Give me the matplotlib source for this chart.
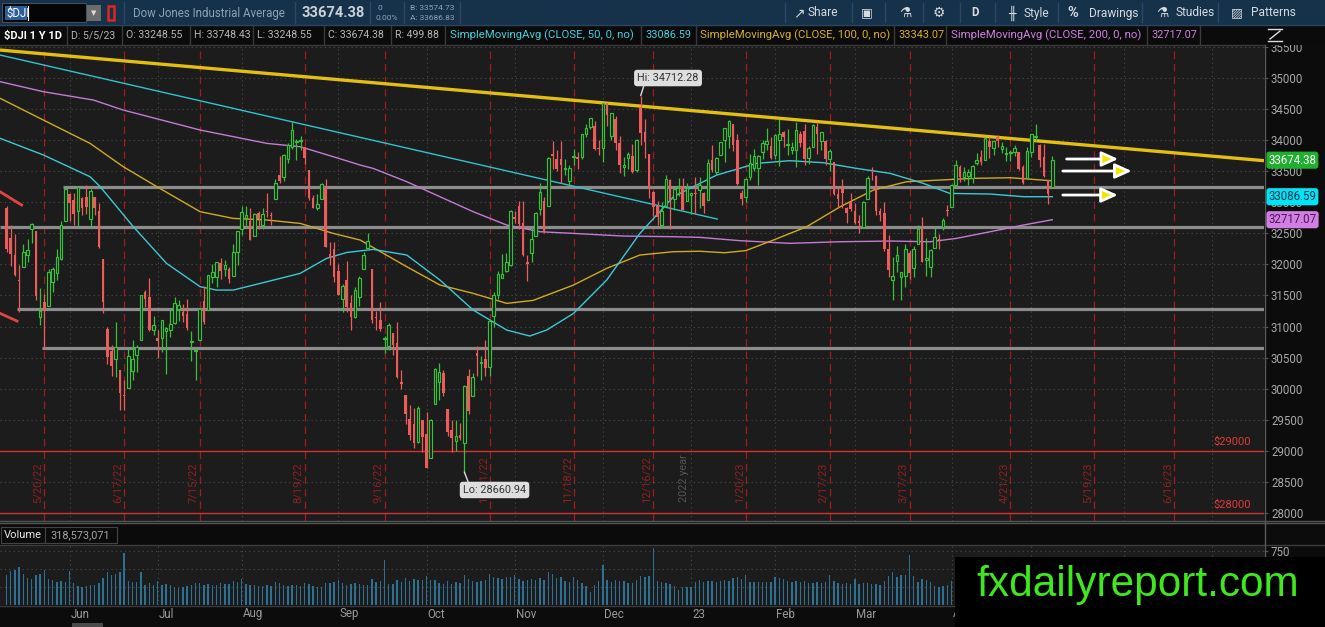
import numpy as np
import matplotlib
matplotlib.use('Agg')
import matplotlib.pyplot as plt
from matplotlib.patches import Rectangle
from matplotlib.lines import Line2D
from matplotlib.transforms import blended_transform_factory

plt.rcParams['font.family'] = ['Roboto', 'DejaVu Sans']

# ---- daily candles, $DJI 5/9/22 .. 5/5/23 (x = trading day number) ----
opens = [
    32900, 32420, 32150, 31750, 31960, 32150, 32560, 32540, 31150, 31400, 31330, 31720, 31860, 32090, 32690, 33130,
    33030, 32860, 33060, 33090, 32730, 33080, 32850, 32080, 30960, 30600, 30480, 30300, 29900, 30010, 30290, 30540, 30790, 31560, 31470, 30940, 30820,
    30810, 30930, 30940, 31060, 31280, 31230, 31200, 30750, 30610, 30780, 31410, 31260, 31790, 31800, 32020, 31930, 31920, 31820, 32200, 32560,
    32750, 32700, 32460, 32820, 32640, 32850, 32790, 33050, 33430, 33400, 33700, 33880, 33970, 33980, 33880, 33510, 33070, 32900, 33050, 33240, 32160, 32250, 31900,
    31450, 31740, 31370, 31160, 31470, 31920, 32270, 31920, 31150, 31110, 30800, 30690, 30900, 30730, 30100, 29900, 29520, 29440, 29150, 29490, 29270,
    28880, 29760, 30100, 30250, 29680, 29340, 29160, 29260, 29130, 30200, 29890, 30570, 30410, 30480, 30350, 31170, 31500, 31780, 31890, 31990, 32760,
    32940, 32660, 32030, 32180, 32450, 32890, 33020, 32930, 33770, 33690, 33700, 33530, 33340, 33720, 33720, 33730, 34100, 34200, 34230, 33870, 33870,
    34590, 34070, 34340, 33950, 33560, 33710, 33740, 33510, 34520, 34120, 33780, 33160, 32940, 32640, 32930, 33360, 33050, 33230, 33260, 33020, 33120,
    33150, 33200, 33150, 33040, 33680, 33490, 33760, 34000, 34060, 34250, 34000, 33140, 33080, 33410, 33550, 33550, 33810, 33940, 33900, 33750,
    34000, 34130, 33920, 33840, 33830, 34090, 34150, 33710, 33890, 34200, 33980, 33990, 33690, 33650, 33130, 33230, 32900, 33000, 32860,
    32690, 32600, 33050, 33440, 33420, 32860, 32820, 32250, 31750, 32060, 31790, 31820, 32180, 31940, 32330, 32560, 32070, 31950, 32270, 32400, 32600, 32870, 32920,
    33270, 33570, 33410, 33420, 33390, 33630, 33720, 33680, 33990, 33870, 34050, 33860, 33780, 33790, 33810, 33810, 33570, 33390, 33800,
    34050, 33920, 33720, 33360, 33248.55,
]
highs = [
    32940, 32630, 32480, 31990, 32320, 32400, 32660, 32540, 31620, 31520, 31920, 31960, 32240, 32700, 33220, 33140,
    33150, 33250, 33090, 33270, 33210, 33090, 32990, 32080, 31000, 30700, 31080, 30300, 30140, 30650, 30780, 30700, 31500, 31580, 31780, 31170, 30940,
    31100, 30990, 31280, 31480, 31430, 31360, 31450, 30920, 30630, 31300, 31650, 31830, 32010, 32040, 32100, 32070, 31960, 32320, 32540, 32940,
    32930, 32900, 32820, 32860, 32900, 33150, 32840, 33370, 33740, 33770, 33950, 34280, 34020, 34070, 33880, 33510, 33110, 33130, 33300, 33370, 32360, 32360, 32000,
    31680, 32050, 31510, 31640, 31820, 32190, 32510, 31930, 31250, 31400, 30840, 31060, 30900, 31080, 30300, 29900, 29730, 29690, 29720, 29490, 29620,
    29520, 30330, 30410, 30300, 29680, 29500, 29500, 29450, 30060, 30320, 30250, 30690, 30520, 30780, 31100, 31560, 31900, 32170, 32180, 32880, 32850,
    33020, 33020, 32150, 32580, 32840, 33310, 33080, 33720, 33980, 33840, 33990, 33690, 33600, 33860, 33800, 34100, 34260, 34360, 34300, 34000, 34590,
    34600, 34440, 34380, 34060, 33720, 33800, 33940, 34010, 34712.28, 34330, 33780, 33180, 33010, 33000, 33430, 33370, 33230, 33390, 33380, 33300, 33150,
    33410, 33400, 33160, 33700, 33920, 33730, 33970, 34190, 34320, 34250, 34100, 33190, 33380, 33770, 33850, 33760, 34000, 34190, 34050, 34090,
    34330, 34150, 34180, 33970, 34280, 34150, 34250, 33900, 34260, 34280, 34130, 34000, 33860, 33650, 33260, 33370, 32920, 33150, 32990,
    32800, 33010, 33420, 33570, 33440, 32900, 33000, 32470, 32120, 32300, 31880, 32320, 32230, 32300, 32640, 32760, 32430, 32240, 32600, 32480, 32750, 32950, 33290,
    33670, 33600, 33570, 33540, 33590, 33790, 33830, 34040, 34050, 34000, 34080, 33970, 33880, 33830, 33920, 33810, 33590, 33880, 34100,
    34260, 33930, 33940, 33360, 33748.43,
]
lows = [
    32200, 31980, 31820, 31230, 31960, 32040, 32340, 31430, 31030, 30640, 31330, 31560, 31740, 32070, 32690, 32690,
    32630, 32620, 32800, 32810, 32600, 32790, 32270, 31220, 30390, 30210, 30190, 29650, 29650, 30010, 30140, 30270, 30790, 31320, 30930, 30870, 30500,
    30590, 30230, 30830, 31040, 31090, 31070, 30950, 30450, 30140, 30780, 31040, 31260, 31700, 31640, 31770, 31810, 31700, 31820, 31990, 32470,
    32580, 32390, 32460, 32570, 32560, 32760, 32630, 33050, 33310, 33340, 33630, 33860, 33680, 33840, 33610, 33030, 32900, 32880, 33050, 32280, 31990, 31720, 31500,
    31240, 31240, 30950, 31140, 31330, 31920, 32270, 31050, 30940, 30920, 30580, 30620, 30540, 30180, 29990, 29440, 29170, 29040, 29120, 28980, 28720,
    28880, 29760, 29820, 29890, 29240, 28990, 29000, 29170, 28660.94, 29600, 29890, 30200, 30140, 30210, 30210, 31000, 31450, 31780, 31880, 31970, 32660,
    32570, 32140, 31730, 32030, 32450, 32800, 32500, 32930, 33530, 33500, 33300, 33430, 33280, 33590, 33530, 33700, 34050, 34170, 33830, 33760, 33640,
    34230, 34000, 33840, 33470, 33420, 33540, 33470, 33480, 33920, 33710, 33060, 32770, 32630, 32580, 32930, 32570, 32870, 33100, 32870, 33020, 32810,
    32810, 32910, 32820, 33040, 33490, 33460, 33760, 33640, 33870, 33820, 33280, 32950, 33000, 33350, 33500, 33270, 33700, 33840, 33700, 33690,
    33580, 33880, 33750, 33770, 33560, 33890, 33600, 33610, 33890, 33780, 33830, 33600, 33500, 33120, 32910, 32900, 32660, 32860, 32650,
    32500, 32590, 33050, 33350, 32800, 32700, 32220, 31800, 31430, 31880, 31430, 31640, 31760, 31800, 32330, 32030, 31810, 31800, 32270, 32250, 32550, 32780, 32920,
    33250, 33330, 33340, 33280, 33300, 33600, 33590, 33680, 33710, 33760, 33880, 33790, 33660, 33660, 33740, 33510, 33290, 33390, 33720,
    33980, 33570, 33400, 32970, 33248.55,
]
closes = [
    32245, 32160, 31834, 31730, 32197, 32223, 32654, 31490, 31253, 31262, 31880, 31929, 32120, 32637, 33213, 32990,
    32813, 33248, 32900, 32916, 33180, 32910, 32273, 31393, 30517, 30365, 30668, 29927, 29889, 30530, 30484, 30677, 31501, 31439, 30947, 31029, 30775,
    31097, 30968, 31037, 31385, 31338, 31173, 30982, 30773, 30630, 31288, 31073, 31827, 31875, 32037, 31899, 31990, 31762, 32198, 32530, 32845,
    32798, 32397, 32813, 32727, 32803, 32833, 32775, 33310, 33337, 33761, 33913, 34152, 33981, 33999, 33707, 33064, 32910, 32970, 33292, 32283, 32099, 31791, 31510,
    31656, 31318, 31145, 31581, 31775, 32152, 32381, 31105, 31135, 30962, 30822, 31020, 30706, 30184, 30077, 29590, 29260, 29135, 29684, 29226, 28726,
    29490, 30316, 30274, 29927, 29297, 29203, 29239, 29211, 30039, 29635, 30186, 30524, 30424, 30334, 31083, 31500, 31837, 31839, 32034, 32862, 32733,
    32653, 32148, 32001, 32403, 32827, 33161, 32514, 33716, 33748, 33537, 33593, 33554, 33546, 33746, 33701, 34098, 34195, 34347, 33850, 33853, 34590,
    34395, 34430, 33947, 33597, 33598, 33781, 33477, 34006, 34109, 33966, 33203, 32920, 32758, 32850, 33377, 33027, 33204, 33241, 32876, 33221, 33147,
    33136, 33270, 32930, 33631, 33518, 33704, 33973, 34190, 34303, 33911, 33297, 33045, 33376, 33630, 33734, 33744, 33949, 33978, 33717, 34086,
    34093, 34054, 33926, 33891, 34156, 33949, 33699, 33869, 34246, 34089, 34128, 33697, 33827, 33130, 33045, 33154, 32817, 32889, 32657,
    32662, 33004, 33391, 33431, 32856, 32798, 32254, 31910, 31820, 32155, 31875, 32247, 31862, 32245, 32561, 32031, 32106, 32238, 32433, 32395, 32717, 32860, 33274,
    33601, 33403, 33483, 33485, 33587, 33685, 33647, 34030, 33887, 33987, 33977, 33897, 33787, 33809, 33876, 33531, 33302, 33827, 34098,
    34052, 33684, 33415, 33128, 33674.38,
]
# volume, millions of shares
volumes = [
    420, 470, 480, 520, 430, 370, 360, 420, 430, 480, 360, 350, 310, 330, 320, 470,
    300, 260, 240, 260, 280, 270, 300, 370, 450, 420, 430, 460, 720, 330, 320, 310, 450, 280, 300, 280, 330,
    270, 290, 270, 250, 230, 250, 260, 270, 300, 300, 270, 290, 280, 280, 300, 290, 290, 330, 310, 360,
    290, 280, 280, 260, 260, 280, 260, 310, 300, 280, 260, 270, 270, 260, 300, 290, 260, 240, 250, 300, 300, 310, 340,
    300, 280, 290, 300, 290, 280, 270, 360, 320, 330, 620, 290, 290, 340, 320, 370, 330, 360, 340, 340, 400,
    340, 340, 300, 290, 330, 290, 320, 300, 420, 360, 330, 320, 330, 340, 430, 380, 370, 360, 380, 390, 420,
    360, 330, 340, 360, 340, 370, 350, 460, 430, 370, 380, 330, 310, 390, 340, 300, 260, 180, 280, 330, 560,
    350, 320, 340, 330, 330, 300, 300, 340, 400, 390, 400, 790, 330, 320, 300, 290, 260, 210, 240, 240, 250,
    320, 340, 320, 330, 330, 320, 330, 350, 330, 370, 380, 360, 420, 320, 310, 310, 320, 310, 320, 390,
    370, 360, 330, 310, 330, 310, 330, 300, 300, 310, 300, 320, 410, 330, 300, 290, 300, 290, 360,
    290, 300, 300, 290, 290, 270, 330, 400, 460, 380, 410, 420, 700, 400, 320, 360, 340, 320, 260, 250, 260, 280, 330,
    290, 300, 270, 250, 240, 250, 260, 280, 300, 260, 250, 260, 260, 330, 270, 290, 300, 300, 330,
    300, 290, 300, 310, 318.6,
]

# moving averages (day number, value)
sma50_x = [-1.5, 8.8, 19.9, 22.3, 30.2, 38.1, 46.1, 50, 54, 62, 69.9, 76.2, 81, 87.3, 95.3, 103.2, 111.1, 119.1,
           124.6, 128.6, 135, 142.9, 150.8, 158.8, 165.1, 169.1, 178.6, 186.5, 194.5, 202.4, 210.4, 218.3, 224.6,
           234.2, 242.1, 249]
sma50_y = [34025, 33757, 33408, 33248, 32604, 32015, 31640, 31586, 31586, 31720, 31854, 32095, 32190, 32240, 32149,
           31747, 31265, 30943, 30847, 30943, 31211, 31747, 32497, 33087, 33301, 33435, 33623, 33666, 33633, 33542,
           33462, 33301, 33140, 33130, 33087, 33086.59]
sma100_x = [-1.5, 8.8, 19.9, 27.8, 35.8, 46.1, 54, 62, 69.9, 77.8, 84.2, 95.3, 103.2, 111.1, 119.1, 125.4, 135,
            142.9, 150.8, 158.8, 165.1, 171, 176, 182.6, 190.5, 198.5, 206.4, 214.3, 222.3, 230.2, 238.9, 249]
sma100_y = [34668, 34319, 33944, 33569, 33248, 32846, 32738, 32712, 32658, 32497, 32390, 31961, 31667, 31533, 31372,
            31420, 31667, 31935, 32149, 32203, 32210, 32186, 32220, 32390, 32604, 32926, 33194, 33328, 33355, 33382,
            33392, 33343.07]
sma200_x = [-1.5, 8.8, 20.7, 27.8, 46.1, 62, 69.9, 77.8, 84.2, 87.3, 95.3, 103.2, 111.1, 119.1, 127, 135, 146.9,
            158.8, 165.1, 174.6, 186.5, 198.5, 210.4, 219.9, 226.2, 234.2, 242.1, 249]
sma200_y = [34936, 34775, 34641, 34480, 34159, 33944, 33891, 33730, 33596, 33542, 33328, 33087, 32846, 32631, 32524,
            32497, 32454, 32444, 32433, 32380, 32337, 32363, 32374, 32363, 32417, 32524, 32631, 32717.07]

# drawn studies
support_levels = [33248, 32594, 31276, 30649]
support_start = [13.5, -1.55, 2.4, 8.4]
yellow_trend = ([-1.55, 299.4], [35445, 33666])
cyan_trend = ([-1.55, 169.2], [35365, 32728])
red_stubs = [([-1.55, 3.6], [33167, 32953]), ([-1.55, 2.5], [31212, 31088])]
price_marks = [29000, 28000]

month_ends = [15, 36, 56, 79, 100, 121, 142, 163, 183, 202, 225, 244, 266, 287]
month_names = ['Jun', 'Jul', 'Aug', 'Sep', 'Oct', 'Nov', 'Dec', '23', 'Feb', 'Mar', 'Apr']
opex_days = [9, 28, 46, 71, 90, 115, 135, 154, 176, 196, 215, 239, 259, 278]
opex_names = ['5/20/22', '6/17/22', '7/15/22', '8/19/22', '9/16/22', '10/21/22', '11/18/22', '12/16/22',
              '1/20/23', '2/17/23', '3/17/23', '4/21/23', '5/19/23', '6/16/23']

W, H = 1325, 627
BG = '#1c1c1c'
GREEN = '#35c23a'
RED = '#ee5b5b'
GRID = '#4a4a4a'
XL = (-1.55, 299.4)


def fx(x):
    return x / W


def fy(y):
    return 1 - y / H


fig = plt.figure(figsize=(W / 100, H / 100), dpi=100, facecolor='#0c0c0c')


def prect(x0, y0, x1, y1, fc, ec='none', lw=0, z=2):
    fig.patches.append(Rectangle((fx(x0), fy(y1)), (x1 - x0) / W, (y1 - y0) / H, transform=fig.transFigure,
                                 facecolor=fc, edgecolor=ec, lw=lw, zorder=z))


def fline(xs, ys, color, lw=1, z=3):
    fig.lines.append(Line2D([fx(v) for v in xs], [fy(v) for v in ys], transform=fig.transFigure,
                            color=color, lw=lw, zorder=z))


def ftext(x, y, s, **kw):
    kw.setdefault('va', 'center')
    kw.setdefault('zorder', 4)
    fig.text(fx(x), fy(y), s, **kw)


# ---------------- price panel ----------------
ax = fig.add_axes([0, fy(521), 1264 / W, (521 - 45) / H])
ax.set_facecolor(BG)
ax.set_xlim(*XL)
ax.set_ylim(27873, 35526)
for s in ax.spines.values():
    s.set_visible(False)
ax.set_xticks([])
ax.yaxis.tick_right()
ax.set_yticks(np.arange(28000, 35501, 500))
ax.set_yticklabels(['%d' % v for v in np.arange(28000, 35501, 500)])
ax.tick_params(axis='y', length=3, pad=2, colors='#555555', labelcolor='#a8a8a8', labelsize=8.3)
ax.grid(axis='y', color=GRID, linestyle=(0, (1, 3)), lw=0.8)
for m in month_ends:
    ax.axvline(m, color=GRID, linestyle=(0, (1, 3)), lw=0.8, zorder=0.5)

ax_y = blended_transform_factory(ax.transData, ax.transAxes)
for d, lab in zip(opex_days, opex_names):
    ax.axvline(d, color='#a01c1c', linestyle=(0, (6, 4)), lw=0.9, zorder=0.6)
    ax.text(d - 0.35, 0.038, lab, transform=ax_y, rotation=90, ha='right', va='bottom',
            color='#8e2020', fontsize=8, zorder=0.7)
ax.text(162.6, 0.04, '2022 year', transform=ax_y, rotation=90, ha='right', va='bottom',
        color='#555555', fontsize=7.8, zorder=0.7)

for lvl, x0 in zip(support_levels, support_start):
    ax.plot([x0, XL[1]], [lvl, lvl], color='#8c8c8c', lw=2.3, zorder=2, solid_capstyle='butt')
for lvl in price_marks:
    ax.axhline(lvl, color='#d83030', lw=1, zorder=2)
    ax.text(296.2, lvl + 55, '$%d' % lvl, color='#e03a3a', fontsize=8, ha='right', va='bottom', zorder=2)
for xs, ys in red_stubs:
    ax.plot(xs, ys, color='#e04444', lw=2, zorder=2)

# moving averages
ax.plot(sma200_x, sma200_y, color='#c57ad6', lw=1, zorder=2.5)
ax.plot(sma100_x, sma100_y, color='#d0aa22', lw=1, zorder=2.5)
ax.plot(sma50_x, sma50_y, color='#3cc9d6', lw=1, zorder=2.5)

# candles
o = np.array(opens, float)
hi = np.array(highs, float)
lo = np.array(lows, float)
c = np.array(closes, float)
days = np.arange(len(c))
up = c >= o
ax.vlines(days[up], lo[up], hi[up], color=GREEN, lw=0.9, zorder=3)
ax.vlines(days[~up], lo[~up], hi[~up], color=RED, lw=0.9, zorder=3)
ax.bar(days[up], np.maximum(c - o, 12)[up], bottom=o[up], width=0.62, facecolor=BG,
       edgecolor=GREEN, lw=0.85, zorder=4)
ax.bar(days[~up], np.maximum(o - c, 12)[~up], bottom=c[~up], width=0.62, color=RED, lw=0, zorder=4)

# trendlines
ax.plot(*cyan_trend, color='#2fc4cf', lw=1, zorder=2.6)
ax.plot(*yellow_trend, color='#e2bf10', lw=2.4, zorder=2.7, solid_capstyle='butt')

# arrows
for (x0, x1, yv) in [(252.4, 264.7, 33693), (251.5, 267.9, 33500), (251.5, 264.6, 33114)]:
    ax.annotate('', xy=(x1, yv), xytext=(x0, yv),
                arrowprops=dict(arrowstyle='-|>,head_length=1.0,head_width=0.45', fc='#f2e600',
                                ec='white', lw=2, shrinkA=0, shrinkB=0), zorder=5)

# hi / lo callouts
ax.annotate('Hi: 34712.28', xy=(151, 34712.28), xytext=(157.5, 34995), ha='center', va='center',
            fontsize=7.8, color='#333333', zorder=6,
            bbox=dict(boxstyle='round,pad=0.3,rounding_size=0.3', fc='#dedede', ec='none'),
            arrowprops=dict(arrowstyle='-', color='#dedede', lw=1, relpos=(0.12, 0), shrinkA=0, shrinkB=0))
ax.annotate('Lo: 28660.94', xy=(109, 28660.94), xytext=(116.2, 28372), ha='center', va='center',
            fontsize=7.8, color='#333333', zorder=6,
            bbox=dict(boxstyle='round,pad=0.3,rounding_size=0.3', fc='#dedede', ec='none'),
            arrowprops=dict(arrowstyle='-', color='#dedede', lw=1, relpos=(0.1, 1), shrinkA=0, shrinkB=0))

# last value tags on the price scale
ax_r = blended_transform_factory(ax.transAxes, ax.transData)
for val, fc, tc in [(closes[-1], '#1fae2e', '#ffffff'), (sma50_y[-1], '#00e4f5', '#06304a'),
                    (sma200_y[-1], '#d27fe4', '#4b1457')]:
    ax.text(1.0035, val, '%.2f' % val, transform=ax_r, ha='left', va='center', fontsize=8.3, color=tc,
            clip_on=False, zorder=10,
            bbox=dict(boxstyle='round,pad=0.18,rounding_size=0.25', fc=fc, ec='none'))

# ---------------- volume panel ----------------
axv = fig.add_axes([0, fy(605), 1264 / W, (605 - 545) / H])
axv.set_facecolor(BG)
axv.set_xlim(*XL)
axv.set_ylim(-7, 834)
for s in axv.spines.values():
    s.set_visible(False)
axv.set_xticks([])
axv.yaxis.tick_right()
axv.set_yticks([750])
axv.set_yticklabels(['750'])
axv.tick_params(axis='y', length=3, pad=2, colors='#555555', labelcolor='#a8a8a8', labelsize=8.3)
for g in [250, 500, 750]:
    axv.axhline(g, color=GRID, linestyle=(0, (1, 3)), lw=0.8, zorder=0.5)
for m in month_ends:
    axv.axvline(m, color=GRID, linestyle=(0, (1, 3)), lw=0.8, zorder=0.5)
axv.bar(days, volumes, width=0.32, color='#2d7092', zorder=2)

# month labels under the volume panel
tb = blended_transform_factory(axv.transData, fig.transFigure)
for m, name in zip(month_ends, month_names):
    axv.text(m + 0.3, fy(614), name, transform=tb, ha='left', va='center', color='#9a9a9a',
             fontsize=8.3, clip_on=False)

# ---------------- frame / separators ----------------
fline([0, 1325], [520.5, 520.5], '#555555')
fline([0, 1325], [523, 523], '#555555')
fline([0, 1325], [545, 545], '#3c3c3c')
fline([0, 1325], [605.5, 605.5], '#3c3c3c')
fline([1264.5, 1264.5], [45, 605], '#5a5a5a')
prect(72, 623, 103, 627, '#4a4a4a')

# volume header
prect(0, 524, 1264, 544.5, '#0b0b0b', z=1.5)
prect(0.5, 527, 45, 543, '#0b0b0b', ec='#444444', lw=0.8)
prect(45, 527, 117, 543, '#0b0b0b', ec='#444444', lw=0.8)
ftext(4, 535, 'Volume', color='#e6e6e6', fontsize=8)
ftext(50, 535, '318,573,071', color='#a5a5a5', fontsize=7.8)

# ---------------- header rows ----------------
prect(0, 0, 1325, 25, '#16314a')
prect(0, 25, 1325, 45, '#0b0b0b')
fline([0, 1325], [25, 25], '#2b4560')
fline([0, 1264], [45, 45], '#3a3a3a')

prect(2, 3, 86, 22, '#050505', ec='#3f5163', lw=0.8, z=2.5)
prect(5, 6, 27, 20, '#2c5f99', z=2.6)
ftext(6, 13, '$DJI', color='#ffffff', fontsize=8.3)
fline([28, 28], [6, 20], '#ffffff', lw=0.8, z=5)
prect(87, 5, 101, 21, '#6b6b6b', z=2.5)
ftext(94, 13, '\u25BC', color='#dddddd', fontsize=5, ha='center', family=['DejaVu Sans'])
prect(108, 5.5, 113.5, 19.5, 'none', ec='#e02424', lw=1.8, z=2.5)
for xs in [124, 295, 370, 404, 460]:
    fline([xs, xs], [2, 23], '#2c4864')
ftext(133, 13, 'Dow Jones Industrial Average', color='#8ea3b6', fontsize=8.3)
ftext(301, 13, '33674.38', color='#c9d1d9', fontsize=10.5, fontweight='bold')
ftext(377, 7.5, '0', color='#8ea3b6', fontsize=6)
ftext(375, 18, '0.00%', color='#8ea3b6', fontsize=6)
ftext(410, 7.5, 'B: 33574.73', color='#8ea3b6', fontsize=6)
ftext(410, 18, 'A: 33686.83', color='#8ea3b6', fontsize=6)

tool = '#d5dbe1'
for xs in [785, 851.5, 885, 923, 959.7, 994.6, 1057.7, 1142, 1217.7]:
    fline([xs, xs], [3, 22], '#2c4864')
ftext(793, 13, '\u2197', color=tool, fontsize=10, family=['DejaVu Sans'])
ftext(808, 13, 'Share', color=tool, fontsize=8.6)
ftext(861, 13, '\u25A3', color=tool, fontsize=9, family=['DejaVu Sans'])
ftext(899, 13, '\u2697', color=tool, fontsize=10, family=['DejaVu Sans'])
ftext(933, 13, '\u2699', color=tool, fontsize=10, family=['DejaVu Sans'])
ftext(971, 13, 'D', color=tool, fontsize=8.3, fontweight='bold')
ftext(1008, 13, '\u256B', color=tool, fontsize=9, family=['DejaVu Sans'])
ftext(1024, 13, 'Style', color=tool, fontsize=8.6)
ftext(1067, 13, '%', color=tool, fontsize=10.5, fontweight='bold')
ftext(1089, 13, 'Drawings', color=tool, fontsize=8.6)
ftext(1156, 13, '\u2697', color=tool, fontsize=10, family=['DejaVu Sans'])
ftext(1175, 13, 'Studies', color=tool, fontsize=8.6)
ftext(1231, 13, '\u25A8', color=tool, fontsize=9, family=['DejaVu Sans'])
ftext(1251, 13, 'Patterns', color=tool, fontsize=8.6)

# study row
for xs in [67, 122, 190, 252.5, 324, 390.6, 445.3, 640.6, 695.8, 893.6, 946, 1147, 1200]:
    fline([xs, xs], [26, 44], '#3a3a3a')
row = 35.5
ftext(4, row, '$DJI 1 Y 1D', color='#ffffff', fontsize=8, fontweight='bold')
for xs, s in [(71, 'D: 5/5/23'), (126, 'O: 33248.55'), (194, 'H: 33748.43'), (257, 'L: 33248.55'),
              (328, 'C: 33674.38'), (395, 'R: 499.88')]:
    ftext(xs, row, s, color='#b5b5b5', fontsize=7.6)
ftext(450, row, 'SimpleMovingAvg (CLOSE, 50, 0, no)', color='#3fd0de', fontsize=8.2)
ftext(645, row, '33086.59', color='#3fd0de', fontsize=7.8)
ftext(700, row, 'SimpleMovingAvg (CLOSE, 100, 0, no)', color='#d7ae2c', fontsize=8.2)
ftext(898, row, '33343.07', color='#d7ae2c', fontsize=7.8)
ftext(951, row, 'SimpleMovingAvg (CLOSE, 200, 0, no)', color='#cf80e0', fontsize=8.2)
ftext(1151, row, '32717.07', color='#cf80e0', fontsize=7.8)
fline([1268, 1282], [29, 29], '#e0e0e0', lw=1, z=5)
fline([1268, 1282], [41, 41], '#e0e0e0', lw=1, z=5)
fline([1270, 1280], [39, 31], '#e0e0e0', lw=1, z=5)

# watermark
prect(955, 557, 1325, 627, '#000000', z=6)
ftext(1138, 585, 'fxdailyreport.com', color='#3ee81c', fontsize=30.5, ha='center',
      family=['Liberation Sans', 'DejaVu Sans'], zorder=7)

fig.savefig('out.png', dpi=100, facecolor=fig.get_facecolor())
